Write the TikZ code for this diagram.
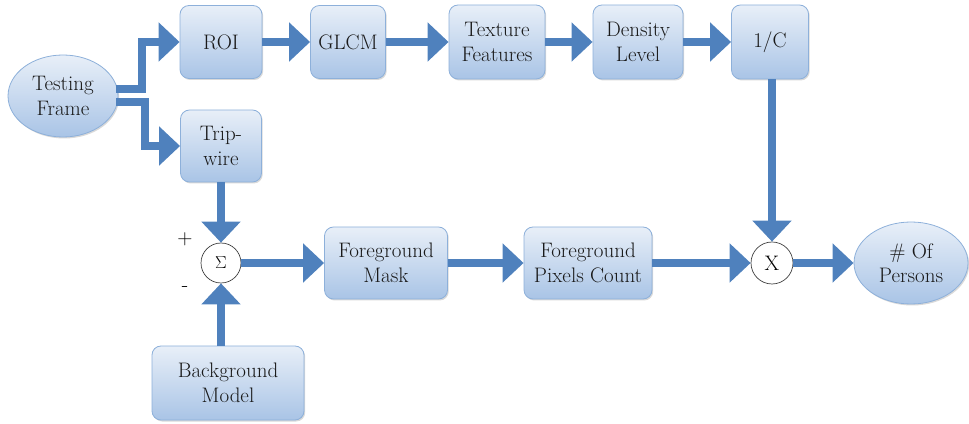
\documentclass[tikz,border=0pt]{standalone}
\usepackage{fontspec}
\usetikzlibrary{arrows.meta,calc,shapes.geometric,shadows}
\definecolor{arrowblue}{HTML}{4F81BD}
\definecolor{boxtop}{HTML}{E8EFF8}
\definecolor{boxbot}{HTML}{A9C4E6}
\definecolor{boxline}{HTML}{8DB0DA}
\tikzset{
  blockbox/.style={rectangle, rounded corners=9pt, draw=boxline, line width=0.8pt,
    top color=boxtop, bottom color=boxbot, align=center, text=black!90,
    font=\rmfamily\fontsize{21}{24.5}\selectfont, inner sep=0pt,
    drop shadow={shadow xshift=1.2pt, shadow yshift=-1.5pt, opacity=0.25, fill=black!60}},
  ovalbox/.style={ellipse, draw=boxline, line width=0.8pt,
    top color=boxtop, bottom color=boxbot, align=center, text=black!90,
    font=\rmfamily\fontsize{21}{24.5}\selectfont, inner sep=0pt,
    drop shadow={shadow xshift=1.2pt, shadow yshift=-1.5pt, opacity=0.25, fill=black!60}},
  opcircle/.style={circle, draw=black!75, line width=0.7pt, fill=white, inner sep=0pt},
  flow/.style={draw=arrowblue, line width=8.5pt,
    -{Triangle[width=38pt,length=21pt]}},
  signlabel/.style={font=\rmfamily\fontsize{21}{22}\selectfont}
}
\begin{document}
\begin{tikzpicture}[x=1pt,y=1pt]
\useasboundingbox (0,0) rectangle (969,423);
% nodes
\node[ovalbox, minimum width=110pt, minimum height=82pt] (tf) at (63,327) {Testing\\Frame};
\node[blockbox, minimum width=82pt, minimum height=73pt] (roi) at (221,381) {ROI};
\node[blockbox, minimum width=75pt, minimum height=73pt] (glcm) at (348,381) {GLCM};
\node[blockbox, minimum width=96pt, minimum height=74pt] (tex) at (497,381) {Texture\\Features};
\node[blockbox, minimum width=90pt, minimum height=74pt] (den) at (638,381) {Density\\Level};
\node[blockbox, minimum width=77pt, minimum height=74pt] (invc) at (770,381) {1/C};
\node[blockbox, minimum width=81pt, minimum height=72pt] (trip) at (221,277) {Trip-\\wire};
\node[opcircle, minimum size=40pt, font=\fontsize{17}{18}\selectfont] (sigma) at (221,160) {$\Sigma$};
\node[blockbox, minimum width=123pt, minimum height=72pt] (fgm) at (386,160) {Foreground\\Mask};
\node[blockbox, minimum width=128pt, minimum height=72pt] (fpc) at (588,160) {Foreground\\Pixels Count};
\node[opcircle, minimum size=42pt, font=\rmfamily\fontsize{21}{22}\selectfont] (mult) at (772,160) {X};
\node[ovalbox, minimum width=114pt, minimum height=82pt] (persons) at (911,160) {\# Of\\Persons};
\node[blockbox, minimum width=152pt, minimum height=74pt] (bg) at (228,40) {Background\\Model};
\node[signlabel] (plus) at (185,184) {+};
\node[signlabel] (minus) at (185,134) {-};
% branch points
\coordinate (tfa) at ($(tf.east)+(-2,7)$);
\coordinate (tfb) at ($(tf.east)+(-2,-6)$);
\coordinate (ka) at (142,334);
\coordinate (kb) at (145,321);
% connectors
\draw[flow] (tfa) -- (ka) |- (roi.west);
\draw[flow] (tfb) -- (kb) |- (trip.west);
\draw[flow] (roi) -- (glcm);
\draw[flow] (glcm) -- (tex);
\draw[flow] (tex) -- (den);
\draw[flow] (den) -- (invc);
\draw[flow] (invc.south -| mult.north) -- (mult.north);
\draw[flow] (trip.south -| sigma.north) -- (sigma.north);
\draw[flow] (bg.north -| sigma.south) -- (sigma.south);
\draw[flow] (sigma) -- (fgm);
\draw[flow] (fgm) -- (fpc);
\draw[flow] (fpc) -- (mult);
\draw[flow] (mult) -- (persons);
\end{tikzpicture}
\end{document}
